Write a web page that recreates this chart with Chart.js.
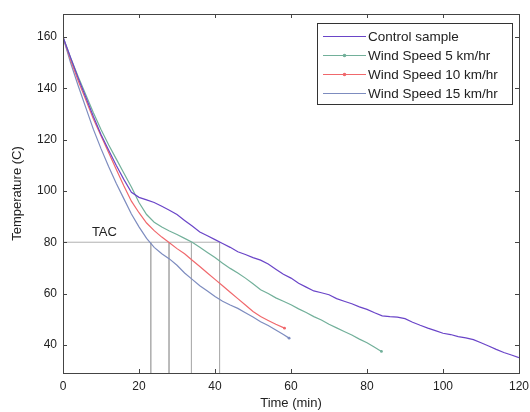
<!DOCTYPE html>
<html>
<head>
<meta charset="utf-8">
<script src="https://cdn.jsdelivr.net/npm/chart.js@4.4.0/dist/chart.umd.min.js"></script>
<style>
  html, body { margin: 0; padding: 0; background: #fff; }
  #wrap { width: 530px; height: 412px; }
</style>
</head>
<body>
<div id="wrap"><canvas id="coolingChart" width="530" height="412"></canvas></div>
<script>
// cooling curves (time in min, temperature in C)
const ctrlTime = [0,2,4,6,8,10,12,14,16,18,20,22,24,26,28,30,32,34,36,38,40,42,44,46,48,50,52,54,56,58,60,62,64,66,68,70,72,74,76,78,80,82,84,86,88,90,92,94,96,98,100,102,104,106,108,110,112,114,116,118,120];
const ctrlTemp = [160,152,144,136.5,129,122,116,110,104.5,99.5,97.5,96.5,95.5,94,92.5,90.8,88.5,86.3,84,82.5,81,79.5,78,76.3,75.2,74,73,71.5,69.5,67.5,66,64,62.5,61,60.3,59.5,58,57,56,54.8,53.8,52.5,51.3,51,50.8,50.2,48.8,47.6,46.5,45.5,44.5,44,43.2,42.7,42,40.8,39.5,38.2,37,36,35];

const wind5Time = [0,2,4,6,8,10,12,14,16,18,20,22,24,26,28,30,32,34,36,38,40,42,44,46,48,50,52,54,56,58,60,62,64,66,68,70,72,74,76,78,80,82,83.8];
const wind5Temp = [160,152,144.5,137.5,130.5,124,118,112.5,107,101.5,95.5,90.8,87.8,85.9,84.4,83,81.5,80,78,76,74,71.8,69.8,68,66,63.8,61.5,60,58.3,57,55.6,54,52.6,51,49.7,48,46.6,45.2,43.8,42.2,40.8,39,37.4];

const wind10Time = [0,2,4,6,8,10,12,14,16,18,20,22,24,26,28,30,32,34,36,38,40,42,44,46,48,50,52,54,56,58.3];
const wind10Temp = [160,151,143,135.5,128,121.5,115,108.5,102,96,91.5,87.5,84.5,82,79.8,77.5,75.5,73,70.5,68,65.5,63,60.5,58,55.5,53,51,49.5,48,46.5];

const wind15Time = [0,2,4,6,8,10,12,14,16,18,20,22,24,26,28,30,32,34,36,38,40,42,44,46,48,50,52,54,56,58,59.5];
const wind15Temp = [160,150,141,132.5,124,116.5,109.5,103,97,91,86,81.5,78,75.5,73.5,71,68,65.5,63,61,58.8,57,55.5,54.2,52.5,50.8,49,47.5,45.8,44,42.6];

// TAC guide: 80 C and the time each sample reaches it
const tacTemp = 80;
const tacTimes = [23.1, 27.9, 33.8, 41.2];

const xTicks = [0, 20, 40, 60, 80, 100, 120];
const yTicks = [40, 60, 80, 100, 120, 140, 160];
const xMin = 0, xMax = 120, yMin = 29, yMax = 169;

const seriesNames = ['Control sample', 'Wind Speed 5 km/hr', 'Wind Speed 10 km/hr', 'Wind Speed 15 km/hr'];
const seriesColors = ['#6a45c8', '#72b09a', '#f0686c', '#7d8cbf'];
const seriesDots = [false, true, true, false];

const FONT = "'Liberation Sans', Arial, sans-serif";

function pts(xs, ys) {
    return xs.map((x, i) => ({ x: x, y: ys[i] }));
}

const curves = [
    pts(ctrlTime, ctrlTemp),
    pts(wind5Time, wind5Temp),
    pts(wind10Time, wind10Temp),
    pts(wind15Time, wind15Temp)
];

const datasets = curves.map((d, k) => ({
    label: seriesNames[k],
    data: d,
    borderColor: seriesColors[k],
    backgroundColor: seriesColors[k],
    borderWidth: 1.2,
    pointRadius: ctx => (k > 0 && ctx.dataIndex === d.length - 1 ? 1.4 : 0),
    pointBorderWidth: 0,
    tension: 0,
    order: 0
}));

// grey TAC guide lines
datasets.push({
    label: 'TAC',
    data: [{ x: 0, y: tacTemp }, { x: tacTimes[tacTimes.length - 1], y: tacTemp }],
    borderColor: '#b0b0b0', borderWidth: 1, pointRadius: 0, order: 5
});
tacTimes.forEach(t => {
    datasets.push({
        label: 'TAC',
        data: [{ x: t, y: tacTemp }, { x: t, y: yMin }],
        borderColor: '#b0b0b0', borderWidth: 1, pointRadius: 0, order: 5
    });
});

const framePlugin = {
    id: 'frame',
    afterDatasetsDraw(chart) {
        const { ctx, chartArea: a, scales } = chart;
        ctx.save();
        ctx.strokeStyle = '#444';
        ctx.lineWidth = 1;
        ctx.strokeRect(Math.round(a.left) + 0.5, Math.round(a.top) + 0.5,
            Math.round(a.right - a.left), Math.round(a.bottom - a.top));
        ctx.beginPath();
        xTicks.forEach(v => {
            const x = Math.round(scales.x.getPixelForValue(v)) + 0.5;
            ctx.moveTo(x, a.bottom); ctx.lineTo(x, a.bottom - 4);
            ctx.moveTo(x, a.top); ctx.lineTo(x, a.top + 4);
        });
        yTicks.forEach(v => {
            const y = Math.round(scales.y.getPixelForValue(v)) + 0.5;
            ctx.moveTo(a.left, y); ctx.lineTo(a.left + 4, y);
            ctx.moveTo(a.right, y); ctx.lineTo(a.right - 4, y);
        });
        ctx.stroke();

        // TAC label
        ctx.fillStyle = '#222';
        ctx.font = '13px ' + FONT;
        ctx.textBaseline = 'middle';
        ctx.fillText('TAC', scales.x.getPixelForValue(7.6), scales.y.getPixelForValue(84));

        // legend box, drawn inside the plot like the original
        const bx = a.right - 202, by = a.top + 9, bw = 195, bh = 81;
        ctx.fillStyle = '#fff';
        ctx.fillRect(bx, by, bw, bh);
        ctx.strokeStyle = '#333';
        ctx.strokeRect(Math.round(bx) + 0.5, Math.round(by) + 0.5, bw, bh);
        ctx.font = '13.5px ' + FONT;
        seriesNames.forEach((name, k) => {
            const y = Math.round(by + 12.5 + k * 19) + 0.5;
            ctx.strokeStyle = seriesColors[k];
            ctx.lineWidth = 1.2;
            ctx.beginPath();
            ctx.moveTo(bx + 6, y); ctx.lineTo(bx + 49, y);
            ctx.stroke();
            if (seriesDots[k]) {
                ctx.fillStyle = seriesColors[k];
                ctx.beginPath();
                ctx.arc(bx + 27.5, y, 1.8, 0, Math.PI * 2);
                ctx.fill();
            }
            ctx.fillStyle = '#222';
            ctx.fillText(name, bx + 51, y + 0.5);
        });
        ctx.restore();
    }
};

const ctx = document.getElementById('coolingChart').getContext('2d');
new Chart(ctx, {
    type: 'line',
    data: { datasets: datasets },
    options: {
        responsive: false,
        animation: false,
        layout: { padding: { top: 14, right: 0, left: 0, bottom: 0 } },
        plugins: { legend: { display: false }, tooltip: { enabled: false } },
        scales: {
            x: {
                type: 'linear',
                min: xMin, max: xMax,
                afterBuildTicks: s => { s.ticks = xTicks.map(v => ({ value: v })); },
                afterFit: s => { s.height = 39; s.paddingLeft = 0; s.paddingRight = 11; },
                grid: { display: false, drawTicks: false },
                border: { display: false },
                ticks: { color: '#222', font: { size: 12, family: FONT }, padding: 6, maxRotation: 0 },
                title: { display: true, text: 'Time (min)', color: '#222', font: { size: 13, family: FONT }, padding: { top: 0, bottom: 1 } }
            },
            y: {
                type: 'linear',
                min: yMin, max: yMax,
                afterBuildTicks: s => { s.ticks = yTicks.map(v => ({ value: v })); },
                afterFit: s => { s.width = 63; s.paddingTop = 0; s.paddingBottom = 0; },
                grid: { display: false, drawTicks: false },
                border: { display: false },
                ticks: { color: '#222', font: { size: 12, family: FONT }, padding: 6 },
                title: { display: true, text: 'Temperature (C)', color: '#222', font: { size: 13, family: FONT }, padding: { top: 10, bottom: 0 } }
            }
        }
    },
    plugins: [framePlugin]
});
</script>
</body>
</html>
